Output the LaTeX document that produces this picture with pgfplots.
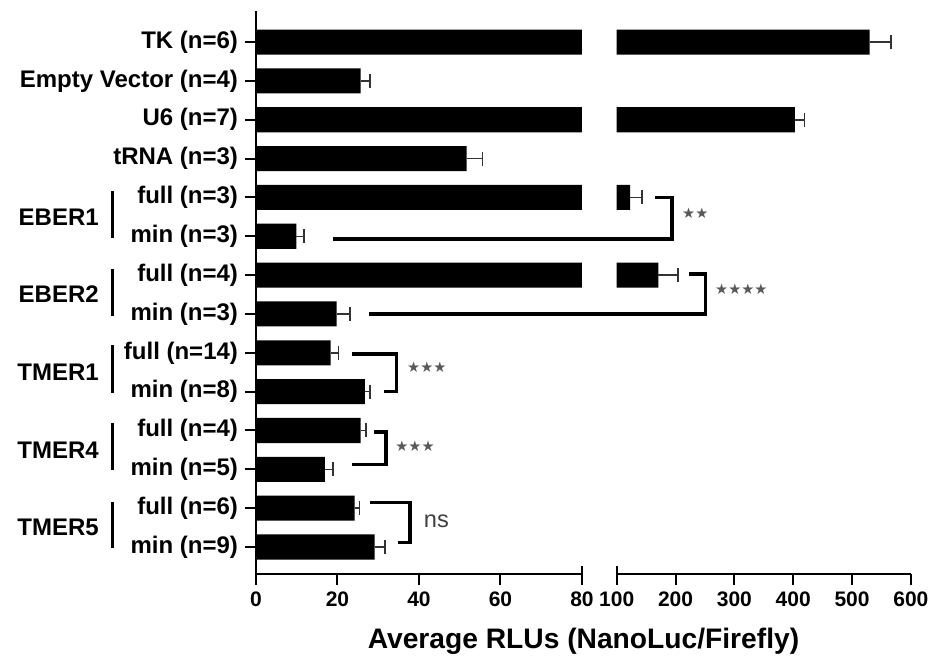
\documentclass[border=0pt]{standalone}
\usepackage{fontspec}
\setmainfont{Liberation Sans}
\newfontfamily\dejavu{DejaVu Sans}
\usepackage{pgfplots}
\usepackage{pgfplotstable}
\pgfplotsset{compat=1.18}

\pgfplotstableread{
y val err
13 530 36
12 25.7 2.3
11 403 16
10 51.7 3.9
9 123 20
8 9.9 1.9
7 171 33
6 19.8 3.3
5 18.3 2.0
4 26.7 1.3
3 25.7 1.3
2 16.9 2.0
1 24.2 1.2
0 29.1 2.5
}\data

\begin{document}
\begin{tikzpicture}
\path[use as bounding box] (0,0) rectangle (465bp,328bp);
\pgfplotsset{
 common/.style={
  scale only axis, height=281.5bp, ymin=-0.695, ymax=13.8,
  xbar, bar width=0.645,
  tick align=outside,
  axis line style={line width=1bp},
  every tick/.style={line width=1bp, black},
  major tick length=5.5bp,
  xticklabel style={font=\fontsize{10.5bp}{12bp}\selectfont\bfseries},
  /pgf/number format/assume math mode=true,
  axis x line*=bottom,
 },
 barplot/.style={fill=black, draw=none,
   error bars/.cd, x dir=plus, x explicit,
   error bar style={line width=0.75bp, black!80},
   error mark=|,
   error mark options={line width=0.75bp, mark size=3.5bp, black!80}},
}
% left segment
\begin{axis}[common, name=L, at={(128bp,41bp)}, anchor=south west,
  width=163bp, xmin=0, xmax=80, xtick={0,20,40,60,80},
  axis y line*=left,
  ytick={0,...,13},
  yticklabels={min (n=9), full (n=6), min (n=5), full (n=4), min (n=8), full (n=14), min (n=3), full (n=4), min (n=3), full (n=3), tRNA (n=3), U6 (n=7), Empty Vector (n=4), TK (n=6)},
  yticklabel style={font=\fontsize{12bp}{14bp}\selectfont\bfseries},
  ]
\addplot[barplot] table[x=val, y=y, x error=err]{\data};
\end{axis}
% right segment
\begin{axis}[common, name=R, at={(308.35bp,41bp)}, anchor=south west,
  width=147.1bp, xmin=100, xmax=600, xtick={100,200,...,600},
  axis y line=none, ytick=\empty,
  restrict x to domain=100:1000,
  ]
\addplot[barplot] table[x=val, y=y, x error=err]{\data};
\end{axis}
% annotations in left-segment coordinates
\begin{axis}[scale only axis, height=281.5bp, width=163bp, at={(128bp,41bp)}, anchor=south west,
  xmin=0, xmax=80, ymin=-0.695, ymax=13.8, hide axis, clip=false]
 % EBER1
 \draw[line width=1.6bp] (axis cs:97.9,9.0) -- (axis cs:102.1,9.0) -- (axis cs:102.1,7.93) -- (axis cs:18.9,7.93);
 % EBER2
 \draw[line width=1.6bp] (axis cs:106.3,7.03) -- (axis cs:110.4,7.03) -- (axis cs:110.4,6.0) -- (axis cs:27.8,6.0);
 % TMER1
 \draw[line width=1.6bp] (axis cs:23.5,4.97) -- (axis cs:34.4,4.97) -- (axis cs:34.4,4.0) -- (axis cs:31.3,4.0);
 % TMER4
 \draw[line width=1.6bp] (axis cs:29.0,2.96) -- (axis cs:31.9,2.96) -- (axis cs:31.9,2.12) -- (axis cs:23.5,2.12);
 % TMER5
 \draw[line width=1.6bp] (axis cs:28.0,1.14) -- (axis cs:37.8,1.14) -- (axis cs:37.8,0.11) -- (axis cs:34.9,0.11);
 % group bars
 \draw[line width=1.6bp] (axis cs:-35.2,9.17) -- (axis cs:-35.2,7.96);
 \draw[line width=1.6bp] (axis cs:-35.2,7.16) -- (axis cs:-35.2,5.95);
 \draw[line width=1.6bp] (axis cs:-35.2,5.2) -- (axis cs:-35.2,3.96);
 \draw[line width=1.6bp] (axis cs:-35.2,3.19) -- (axis cs:-35.2,1.98);
 \draw[line width=1.6bp] (axis cs:-35.2,1.16) -- (axis cs:-35.2,-0.03);
 % significance stars
 \node[anchor=west, inner sep=0pt, text=black!65, font={\dejavu\fontsize{7.3bp}{8bp}\selectfont}] at (axis cs:104.5,8.6) {★★};
 \node[anchor=west, inner sep=0pt, text=black!65, font={\dejavu\fontsize{7.3bp}{8bp}\selectfont}] at (axis cs:112.6,6.63) {★★★★};
 \node[anchor=west, inner sep=0pt, text=black!65, font={\dejavu\fontsize{7.3bp}{8bp}\selectfont}] at (axis cs:37.0,4.64) {★★★};
 \node[anchor=west, inner sep=0pt, text=black!65, font={\dejavu\fontsize{7.3bp}{8bp}\selectfont}] at (axis cs:34.1,2.6) {★★★};
 \node[anchor=west, inner sep=0pt, text=black!75, font={\fontsize{11.8bp}{13bp}\selectfont}] at (axis cs:41.1,0.65) {ns};
 % group labels
 \node[anchor=east, inner sep=0pt, font={\fontsize{12bp}{14bp}\selectfont\bfseries}] at (axis cs:-38.5,8.5) {EBER1};
 \node[anchor=east, inner sep=0pt, font={\fontsize{12bp}{14bp}\selectfont\bfseries}] at (axis cs:-38.5,6.5) {EBER2};
 \node[anchor=east, inner sep=0pt, font={\fontsize{12bp}{14bp}\selectfont\bfseries}] at (axis cs:-38.5,4.5) {TMER1};
 \node[anchor=east, inner sep=0pt, font={\fontsize{12bp}{14bp}\selectfont\bfseries}] at (axis cs:-38.5,2.5) {TMER4};
 \node[anchor=east, inner sep=0pt, font={\fontsize{12bp}{14bp}\selectfont\bfseries}] at (axis cs:-38.5,0.5) {TMER5};
\end{axis}
% axis break marks
\draw[line width=1bp] (L.south east) -- ++(0,4bp);
\draw[line width=1bp] (R.south west) -- ++(0,4bp);
% x label
\node[anchor=base, inner sep=0pt, font={\fontsize{14.1bp}{16bp}\selectfont\bfseries}] at (291.75bp,4bp) {Average RLUs (NanoLuc/Firefly)};
\end{tikzpicture}
\end{document}
